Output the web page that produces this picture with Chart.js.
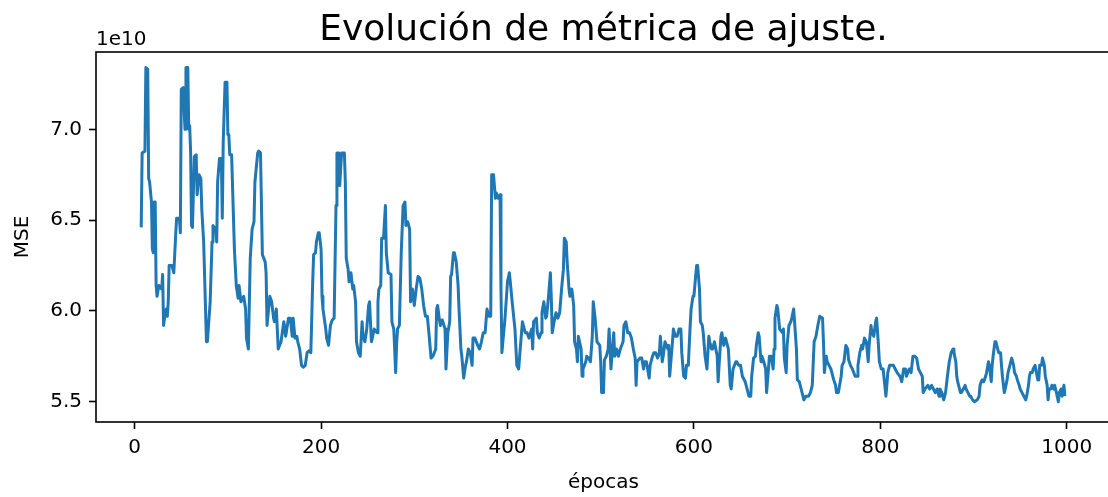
<!DOCTYPE html>
<html>
<head>
<meta charset="utf-8">
<script src="https://cdn.jsdelivr.net/npm/chart.js@4.4.0/dist/chart.umd.min.js"></script>
<style>
  html, body { margin: 0; padding: 0; background: #fff; overflow: hidden; }
  #wrap { width: 1108px; height: 497px; overflow: hidden; }
</style>
</head>
<body>
<div id="wrap"><canvas id="mseChart" width="1120" height="497"></canvas></div>
<script>
// MSE per epoch (values in units of 1e10)
const epochs = [
  7, 8, 11, 12, 14, 15, 16, 18, 19, 20,
  21, 22, 23, 24, 26, 29, 30, 31, 32, 34,
  35, 36, 37, 40, 42, 44, 45, 48, 49, 50,
  52, 54, 55, 57, 58, 59, 60, 61, 62, 64,
  66, 67, 69, 71, 72, 74, 77, 78, 81, 83,
  84, 87, 88, 89, 91, 93, 94, 95, 97, 99,
  100, 101, 102, 104, 107, 109, 111, 112, 114, 117,
  119, 120, 122, 124, 126, 128, 129, 132, 133, 135,
  137, 140, 141, 142, 145, 147, 149, 150, 152, 154,
  157, 160, 162, 165, 167, 169, 170, 172, 174, 175,
  177, 179, 181, 183, 185, 187, 189, 191, 192, 194,
  195, 197, 198, 200, 201, 202, 205, 206, 208, 210,
  212, 214, 216, 217, 219, 220, 222, 225, 226, 227,
  229, 230, 232, 234, 235, 237, 238, 240, 242, 244,
  245, 247, 249, 251, 252, 254, 255, 257, 260, 261,
  262, 264, 265, 267, 269, 270, 272, 275, 276, 278,
  280, 281, 282, 284, 286, 288, 290, 291, 293, 295,
  296, 298, 300, 302, 304, 306, 308, 310, 312, 314,
  316, 318, 320, 323, 324, 325, 327, 328, 330, 333,
  334, 336, 338, 339, 340, 342, 343, 345, 347, 348,
  350, 351, 353, 355, 356, 358, 360, 362, 363, 365,
  368, 370, 372, 374, 376, 378, 380, 382, 383, 385,
  387, 388, 390, 392, 393, 394, 395, 397, 398, 400,
  402, 403, 405, 408, 410, 412, 413, 416, 417, 419,
  421, 423, 426, 427, 428, 431, 432, 434, 436, 437,
  439, 441, 442, 444, 446, 447, 448, 450, 452, 454,
  456, 458, 460, 461, 463, 464, 466, 467, 469, 471,
  472, 474, 475, 476, 479, 480, 481, 484, 485, 487,
  489, 491, 492, 494, 496, 499, 500, 501, 503, 504,
  506, 508, 509, 511, 514, 515, 517, 519, 521, 524,
  525, 527, 529, 531, 533, 535, 537, 538, 539, 542,
  544, 546, 547, 549, 552, 553, 555, 557, 559, 561,
  563, 564, 566, 567, 569, 572, 573, 574, 577, 578,
  580, 582, 584, 586, 587, 589, 591, 592, 594, 596,
  597, 599, 600, 602, 603, 604, 606, 607, 609, 610,
  612, 614, 616, 617, 619, 620, 622, 625, 626, 627,
  629, 630, 632, 634, 635, 637, 639, 640, 642, 643,
  645, 646, 648, 650, 652, 655, 657, 659, 661, 662,
  664, 666, 667, 669, 670, 672, 673, 675, 677, 678,
  680, 681, 683, 685, 686, 687, 689, 690, 692, 695,
  696, 697, 699, 700, 702, 704, 705, 707, 708, 710,
  711, 713, 715, 718, 720, 723, 725, 727, 729, 731,
  733, 735, 738, 739, 740, 742, 743, 745, 747, 748,
  750, 752, 753, 755, 758, 759, 761, 763, 765, 766,
  768, 770, 773, 775, 776, 778, 780, 781, 783, 785,
  787, 788, 790, 791, 793, 795, 796, 798, 799, 801,
  803, 806, 807, 808, 810, 812, 814, 816, 818, 821,
  823, 825, 827, 828, 831, 833, 835, 837, 839, 841,
  843, 845, 846, 848, 851, 853, 855, 857, 859, 861,
  863, 864, 866, 868, 870, 872, 874, 876, 878, 879,
  881, 882, 883, 886, 887, 889, 891, 892, 894, 896,
  897, 899, 901, 904, 906, 907, 909, 910, 911, 913,
  914, 916, 917, 919, 920, 921, 923, 924, 926, 927,
  929, 930, 931, 933, 934, 936, 937, 939, 940, 941,
  943, 944, 946, 947, 949, 950, 952, 954, 956, 957,
  959, 960, 961, 963, 964, 966, 967, 969, 970, 971,
  973, 974, 976, 977, 979, 980, 981, 983, 984, 986,
  987, 989, 991, 992, 994, 995, 997, 998
];

const mse = [
  6.46, 6.87, 6.88, 7.34, 7.33, 6.73, 6.71, 6.60, 6.34, 6.32,
  6.60, 6.60, 6.14, 6.08, 6.14, 6.12, 6.20, 5.92, 5.96, 6.01,
  5.97, 6.05, 6.25, 6.25, 6.21, 6.42, 6.51, 6.51, 6.43, 7.22,
  7.23, 7.00, 7.34, 7.34, 7.00, 7.02, 6.88, 6.47, 6.46, 6.85,
  6.86, 6.64, 6.75, 6.73, 6.56, 6.38, 5.83, 5.83, 6.05, 6.38,
  6.47, 6.45, 6.38, 6.71, 6.84, 6.84, 6.51, 6.93, 7.26, 7.26,
  6.97, 6.97, 6.86, 6.86, 6.34, 6.14, 6.07, 6.14, 6.05, 6.08,
  6.01, 5.85, 5.79, 6.29, 6.45, 6.49, 6.71, 6.87, 6.88, 6.87,
  6.31, 6.27, 6.21, 5.92, 6.08, 6.05, 5.96, 5.94, 6.01, 5.79,
  5.83, 5.94, 5.86, 5.96, 5.96, 5.86, 5.96, 5.85, 5.86, 5.83,
  5.79, 5.70, 5.69, 5.70, 5.77, 5.78, 5.77, 6.16, 6.31, 6.32,
  6.38, 6.43, 6.43, 6.34, 6.08, 6.01, 5.90, 5.85, 5.81, 5.92,
  5.95, 5.96, 6.58, 6.87, 6.87, 6.69, 6.87, 6.87, 6.71, 6.29,
  6.23, 6.16, 6.21, 6.12, 6.14, 6.05, 5.83, 5.77, 5.75, 5.94,
  5.86, 5.83, 5.90, 6.03, 6.05, 5.83, 5.85, 5.90, 5.88, 6.05,
  6.12, 6.14, 6.40, 6.40, 6.58, 6.32, 6.21, 6.20, 5.94, 5.90,
  5.66, 5.81, 5.90, 5.92, 6.32, 6.58, 6.60, 6.47, 6.49, 6.45,
  6.05, 6.12, 6.03, 6.12, 6.19, 6.18, 6.12, 6.03, 5.97, 5.97,
  5.86, 5.74, 5.75, 5.79, 6.01, 6.03, 5.95, 5.92, 5.95, 5.90,
  5.68, 5.88, 5.94, 6.19, 6.20, 6.32, 6.32, 6.27, 6.14, 6.01,
  5.79, 5.75, 5.63, 5.70, 5.72, 5.79, 5.77, 5.70, 5.85, 5.85,
  5.81, 5.79, 5.83, 5.88, 5.88, 6.01, 5.97, 5.97, 6.75, 6.75,
  6.62, 6.65, 6.62, 6.64, 6.12, 5.77, 5.83, 5.94, 6.01, 6.16,
  6.21, 6.16, 6.05, 5.90, 5.70, 5.68, 5.75, 5.94, 5.92, 5.88,
  5.88, 5.85, 5.90, 5.79, 5.94, 5.96, 5.88, 5.85, 5.88, 5.99,
  6.05, 5.96, 5.97, 6.08, 6.21, 6.07, 5.88, 5.94, 5.99, 5.96,
  5.99, 6.12, 6.23, 6.40, 6.38, 6.27, 6.12, 6.08, 6.12, 6.03,
  5.83, 5.79, 5.72, 5.86, 5.79, 5.64, 5.68, 5.72, 5.75, 5.74,
  5.72, 5.86, 6.05, 5.96, 5.83, 5.81, 5.72, 5.55, 5.55, 5.73,
  5.75, 5.79, 5.90, 5.68, 5.88, 5.75, 5.79, 5.75, 5.79, 5.83,
  5.92, 5.94, 5.88, 5.88, 5.85, 5.79, 5.74, 5.59, 5.72, 5.74,
  5.74, 5.68, 5.72, 5.72, 5.63, 5.70, 5.74, 5.77, 5.77, 5.74,
  5.77, 5.86, 5.72, 5.75, 5.83, 5.79, 5.81, 5.64, 5.83, 5.90,
  5.86, 5.86, 5.90, 5.90, 5.77, 5.64, 5.63, 5.70, 5.70, 5.92,
  6.01, 6.08, 6.08, 6.20, 6.25, 6.25, 6.12, 5.94, 5.92, 5.88,
  5.75, 5.68, 5.86, 5.83, 5.79, 5.79, 5.83, 5.75, 5.61, 5.70,
  5.86, 5.88, 5.81, 5.85, 5.83, 5.79, 5.59, 5.57, 5.68, 5.68,
  5.72, 5.72, 5.70, 5.70, 5.64, 5.61, 5.57, 5.53, 5.53, 5.64,
  5.74, 5.75, 5.81, 5.88, 5.86, 5.72, 5.75, 5.72, 5.68, 5.55,
  5.68, 5.75, 5.75, 5.68, 5.79, 5.96, 6.03, 6.01, 5.90, 5.88,
  5.90, 5.74, 5.66, 5.81, 5.92, 5.94, 5.96, 6.01, 5.94, 5.79,
  5.62, 5.61, 5.57, 5.51, 5.53, 5.53, 5.55, 5.59, 5.83, 5.86,
  5.92, 5.97, 5.96, 5.83, 5.66, 5.75, 5.72, 5.70, 5.68, 5.66,
  5.62, 5.59, 5.55, 5.55, 5.64, 5.70, 5.72, 5.81, 5.79, 5.73,
  5.70, 5.68, 5.64, 5.64, 5.70, 5.77, 5.81, 5.79, 5.85, 5.83,
  5.72, 5.81, 5.92, 5.88, 5.86, 5.94, 5.96, 5.81, 5.72, 5.68,
  5.68, 5.53, 5.59, 5.66, 5.70, 5.70, 5.70, 5.68, 5.66, 5.64,
  5.61, 5.68, 5.68, 5.64, 5.68, 5.66, 5.75, 5.75, 5.74, 5.68,
  5.66, 5.64, 5.55, 5.57, 5.59, 5.57, 5.59, 5.57, 5.55, 5.57,
  5.53, 5.57, 5.55, 5.51, 5.55, 5.64, 5.72, 5.77, 5.79, 5.77,
  5.72, 5.64, 5.61, 5.55, 5.55, 5.57, 5.59, 5.57, 5.55, 5.53,
  5.53, 5.51, 5.50, 5.51, 5.53, 5.59, 5.62, 5.62, 5.61, 5.64,
  5.66, 5.72, 5.70, 5.61, 5.70, 5.75, 5.83, 5.83, 5.79, 5.77,
  5.77, 5.70, 5.64, 5.55, 5.57, 5.62, 5.66, 5.70, 5.72, 5.74,
  5.70, 5.66, 5.64, 5.62, 5.59, 5.57, 5.55, 5.53, 5.51, 5.53,
  5.59, 5.64, 5.66, 5.66, 5.68, 5.70, 5.70, 5.62, 5.62, 5.70,
  5.70, 5.74, 5.70, 5.64, 5.59, 5.51, 5.57, 5.57, 5.59, 5.57,
  5.59, 5.55, 5.50, 5.55, 5.57, 5.53, 5.59, 5.53
];

const xTicks = [0, 200, 400, 600, 800, 1000];
const yTicks = [5.5, 6.0, 6.5, 7.0];

const titleText = "Evolución de métrica de ajuste.";
const xLabel = "épocas";
const yLabel = "MSE";
const yScaleText = "1e10";

const FONT = "'DejaVu Sans', sans-serif";

// spines, title and axis labels in matplotlib layout
const frameText = {
  id: "frameText",
  afterDraw(chart) {
    const { ctx, chartArea: a } = chart;
    const midX = (a.left + a.right) / 2;
    ctx.save();

    ctx.strokeStyle = "#000";
    ctx.lineWidth = 1.6;
    ctx.strokeRect(a.left, a.top, a.right - a.left, a.bottom - a.top);

    ctx.fillStyle = "#000";
    ctx.textBaseline = "alphabetic";

    ctx.font = "36px " + FONT;
    ctx.textAlign = "center";
    ctx.fillText(titleText, midX, a.top - 12);

    ctx.font = "20px " + FONT;
    ctx.textAlign = "left";
    ctx.fillText(yScaleText, a.left, a.top - 7);

    ctx.textAlign = "center";
    ctx.fillText(xLabel, midX, 488);

    ctx.translate(28, (a.top + a.bottom) / 2);
    ctx.rotate(-Math.PI / 2);
    ctx.fillText(yLabel, 0, 0);

    ctx.restore();
  }
};

const ctx = document.getElementById("mseChart").getContext("2d");

new Chart(ctx, {
  type: "line",

  data: {
    datasets: [{
      label: "MSE",
      data: epochs.map((e, i) => ({ x: e, y: mse[i] })),
      borderColor: "#1f77b4",
      borderWidth: 3,
      borderJoinStyle: "round",
      pointRadius: 0,
      tension: 0,
      fill: false
    }]
  },

  options: {
    responsive: false,
    animation: false,
    devicePixelRatio: 1,

    layout: {
      padding: { top: 52, right: 9, left: 0, bottom: 0 }
    },

    plugins: {
      legend: { display: false },
      tooltip: { enabled: false },
      title: { display: false }
    },

    scales: {
      x: {
        type: "linear",
        min: -41.5,
        max: 1047.5,
        afterFit: (s) => { s.height = 75; },
        afterBuildTicks: (s) => { s.ticks = xTicks.map(v => ({ value: v })); },
        border: { display: false },
        grid: {
          drawOnChartArea: false,
          drawTicks: true,
          tickLength: 7,
          tickColor: "#000",
          tickWidth: 1.6
        },
        ticks: {
          padding: 7,
          maxRotation: 0,
          color: "#000",
          font: { family: "DejaVu Sans", size: 20 },
          callback: (v) => String(v)
        }
      },

      y: {
        type: "linear",
        min: 5.388,
        max: 7.426,
        afterFit: (s) => { s.width = 96; },
        afterBuildTicks: (s) => { s.ticks = yTicks.map(v => ({ value: v })); },
        border: { display: false },
        grid: {
          drawOnChartArea: false,
          drawTicks: true,
          tickLength: 7,
          tickColor: "#000",
          tickWidth: 1.6
        },
        ticks: {
          padding: 7,
          color: "#000",
          font: { family: "DejaVu Sans", size: 20 },
          callback: (v) => v.toFixed(1)
        }
      }
    }
  },

  plugins: [frameText]
});
</script>
</body>
</html>
